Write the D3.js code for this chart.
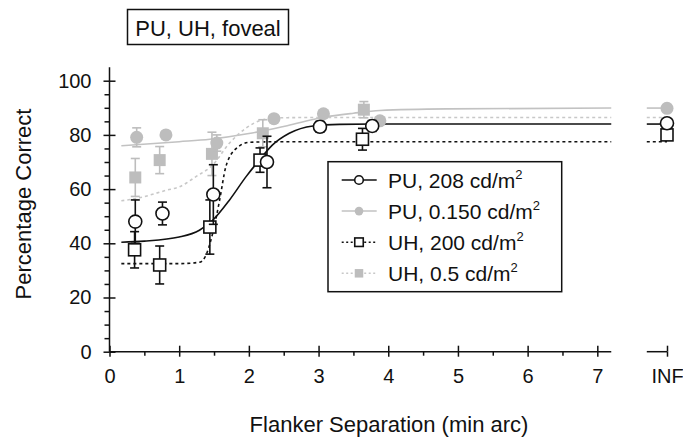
<!DOCTYPE html>
<html>
<head>
<meta charset="utf-8">
<script src="https://cdn.jsdelivr.net/npm/d3@7"></script>
<style>
  html, body { margin: 0; padding: 0; background: #fff; }
  svg { display: block; font-family: "Liberation Sans", Arial, Helvetica, sans-serif; }
</style>
</head>
<body>
<svg id="chart" width="683" height="439"></svg>
<script>
// ---------- data ----------
const xTickValues = [0, 1, 2, 3, 4, 5, 6, 7, 8];
const xTickLabels = ["0", "1", "2", "3", "4", "5", "6", "7", "INF"];
const yTickValues = [0, 20, 40, 60, 80, 100];
const INF_POS = 8;

const seriesNames = ["PU, 208 cd/m", "PU, 0.150 cd/m", "UH, 200 cd/m", "UH, 0.5 cd/m"];

// PU, 208 cd/m2 (open circles)
const pu208X   = [0.37, 0.76, 1.49, 2.26, 3.02, 3.77, INF_POS];
const pu208Y   = [48, 51, 58, 70, 83, 83.3, 84.3];
const pu208Err = [8, 4.2, 11, 9.5, 2, 2, 0];
const pu208FitX = [0.17, 0.5, 1.0, 1.29, 1.48, 1.72, 1.96, 2.15, 2.34, 2.58, 2.92, 3.3, 3.8, 4.5, 7.2];
const pu208FitY = [40.4, 40.8, 42.3, 44.8, 48.5, 55.9, 64.6, 70.7, 76.3, 80.6, 83.3, 83.9, 84, 84, 84];

// PU, 0.150 cd/m2 (grey filled circles)
const pu015X   = [0.39, 0.81, 1.54, 2.36, 3.07, 3.88, INF_POS];
const pu015Y   = [79.1, 80, 77, 86, 87.8, 85.2, 89.8];
const pu015Err = [3.5, 0, 3, 0, 0, 0, 0];
const pu015FitX = [0.17, 1.0, 1.44, 2.0, 2.26, 2.55, 3.07, 3.5, 3.88, 4.84, 7.2];
const pu015FitY = [76, 77.5, 78.4, 80.5, 81.8, 83.4, 86.5, 88, 89, 89.6, 89.9];

// UH, 200 cd/m2 (open squares)
const uh200X   = [0.36, 0.72, 1.44, 2.16, 3.63, INF_POS];
const uh200Y   = [37.6, 32, 46, 70.7, 78.4, 80];
const uh200Err = [6.7, 7, 10, 4.5, 4, 0];
const uh200FitX = [0.17, 1.0, 1.29, 1.37, 1.48, 1.58, 1.67, 1.82, 2.01, 2.5, 7.2];
const uh200FitY = [32.5, 32.5, 33, 34.9, 43.6, 55.9, 68.3, 75, 77.3, 77.5, 77.5];

// UH, 0.5 cd/m2 (grey filled squares)
const uh05X   = [0.37, 0.72, 1.47, 2.2, 3.65];
const uh05Y   = [64.3, 70.7, 73, 80.6, 89.3];
const uh05Err = [7, 5, 8, 5, 3];
const uh05FitX = [0.17, 0.38, 0.82, 1.0, 1.24, 1.48, 1.72, 1.96, 2.2, 2.44, 2.8, 7.2];
const uh05FitY = [55.7, 56.5, 59.6, 60.8, 64.6, 68.9, 76.9, 82.5, 85.6, 86.3, 86.4, 86.4];

// asymptote levels drawn as stubs at INF
const infLevelsY = [84, 89.9, 77.5, 86.4];

// ---------- layout ----------
const svg = d3.select("#chart");
const x = d3.scaleLinear().domain([0, 8]).range([109.5, 667]);
const y = d3.scaleLinear().domain([0, 100]).range([351.7, 80.7]);

const BLACK = "#111";
const GREY_MARK = "#bdbdbd";
const GREY_LINE = "#c2c2c2";
const GREY_DOT = "#c8c8c8";
const FONT = "20px";

const styles = [
  { stroke: BLACK, dash: null, fill: "#fff", markStroke: BLACK, shape: "circle", err: BLACK },
  { stroke: GREY_LINE, dash: null, fill: GREY_MARK, markStroke: "none", shape: "circle", err: GREY_MARK },
  { stroke: BLACK, dash: "3,3", fill: "#fff", markStroke: BLACK, shape: "square", err: BLACK },
  { stroke: GREY_DOT, dash: "3,3", fill: GREY_MARK, markStroke: "none", shape: "square", err: GREY_MARK }
];

// ---------- axes ----------
const axG = svg.append("g").attr("class", "axes");

// y axis
const yAxisOut = d3.axisLeft(y).tickValues(yTickValues).tickSize(6).tickPadding(12).tickFormat(d3.format("d"));
const yAxisIn = d3.axisRight(y).tickValues(yTickValues).tickSize(6).tickFormat("");
const yAxisMinor = d3.axisLeft(y).tickValues(d3.range(5, 100, 5).filter(v => v % 20 !== 0)).tickSize(5).tickFormat("");
[yAxisOut, yAxisIn, yAxisMinor].forEach(ax => {
  const g = axG.append("g").attr("transform", `translate(${x(0)},0)`).call(ax);
  g.select(".domain").remove();
  g.selectAll("line").attr("stroke", BLACK).attr("stroke-width", 1.5);
  g.selectAll("text").attr("font-size", FONT).attr("fill", BLACK).attr("font-family", null);
});
axG.append("line")
  .attr("x1", x(0)).attr("x2", x(0)).attr("y1", y(0)).attr("y2", y(105))
  .attr("stroke", BLACK).attr("stroke-width", 1.5);

// x axis
const xAxisOut = d3.axisBottom(x).tickValues(xTickValues).tickSize(5).tickPadding(12)
  .tickFormat((d, i) => xTickLabels[i]);
const xAxisIn = d3.axisTop(x).tickValues(xTickValues).tickSize(6).tickFormat("");
const xAxisMinor = d3.axisBottom(x).tickValues(d3.range(0.5, 7.5, 1)).tickSize(4).tickFormat("");
[xAxisOut, xAxisIn, xAxisMinor].forEach(ax => {
  const g = axG.append("g").attr("transform", `translate(0,${y(0)})`).call(ax);
  g.select(".domain").remove();
  g.selectAll("line").attr("stroke", BLACK).attr("stroke-width", 1.5);
  g.selectAll("text").attr("font-size", FONT).attr("fill", BLACK).attr("font-family", null);
});
axG.append("line")
  .attr("x1", x(0)).attr("x2", x(7.2)).attr("y1", y(0)).attr("y2", y(0))
  .attr("stroke", BLACK).attr("stroke-width", 1.5);
axG.append("line")
  .attr("x1", x(7.71)).attr("x2", x(8)).attr("y1", y(0)).attr("y2", y(0))
  .attr("stroke", BLACK).attr("stroke-width", 1.5);

// axis titles
svg.append("text")
  .attr("transform", `translate(31,204) rotate(-90)`)
  .attr("text-anchor", "middle").attr("font-size", "22px").attr("fill", BLACK)
  .text("Percentage Correct");
svg.append("text")
  .attr("x", 389).attr("y", 432)
  .attr("text-anchor", "middle").attr("font-size", "22px").attr("fill", BLACK)
  .text("Flanker Separation (min arc)");

// ---------- curves ----------
const line = d3.line().x(d => x(d[0])).y(d => y(d[1])).curve(d3.curveMonotoneX);
const fits = [
  d3.zip(pu208FitX, pu208FitY),
  d3.zip(pu015FitX, pu015FitY),
  d3.zip(uh200FitX, uh200FitY),
  d3.zip(uh05FitX, uh05FitY)
];
const curveOrder = [1, 3, 0, 2];
const curveG = svg.append("g");
curveOrder.forEach(i => {
  curveG.append("path")
    .attr("d", line(fits[i]))
    .attr("fill", "none")
    .attr("stroke", styles[i].stroke)
    .attr("stroke-width", 1.6)
    .attr("stroke-dasharray", styles[i].dash);
  // stub at INF
  curveG.append("line")
    .attr("x1", x(7.71)).attr("x2", x(INF_POS))
    .attr("y1", y(infLevelsY[i])).attr("y2", y(infLevelsY[i]))
    .attr("stroke", styles[i].stroke)
    .attr("stroke-width", 1.6)
    .attr("stroke-dasharray", styles[i].dash);
});

// ---------- markers with error bars ----------
const pts = [
  { xs: pu208X, ys: pu208Y, es: pu208Err },
  { xs: pu015X, ys: pu015Y, es: pu015Err },
  { xs: uh200X, ys: uh200Y, es: uh200Err },
  { xs: uh05X, ys: uh05Y, es: uh05Err }
];
const markOrder = [3, 1, 2, 0];
const R = 6.5, SQ = 12, CAP = 4.5;

function drawMarker(g, shape, cx, cy, fill, stroke, r, sq) {
  if (shape === "circle") {
    g.append("circle").attr("cx", cx).attr("cy", cy).attr("r", r)
      .attr("fill", fill).attr("stroke", stroke).attr("stroke-width", 1.6);
  } else {
    g.append("rect").attr("x", cx - sq / 2).attr("y", cy - sq / 2)
      .attr("width", sq).attr("height", sq)
      .attr("fill", fill).attr("stroke", stroke).attr("stroke-width", 1.6);
  }
}

markOrder.forEach(i => {
  const s = styles[i], p = pts[i];
  const g = svg.append("g");
  p.xs.forEach((xv, k) => {
    const cx = x(xv), e = p.es[k];
    if (e > 0) {
      const y1 = y(p.ys[k] + e), y2 = y(p.ys[k] - e);
      g.append("line").attr("x1", cx).attr("x2", cx).attr("y1", y1).attr("y2", y2)
        .attr("stroke", s.err).attr("stroke-width", 1.6);
      [y1, y2].forEach(yy => g.append("line")
        .attr("x1", cx - CAP).attr("x2", cx + CAP).attr("y1", yy).attr("y2", yy)
        .attr("stroke", s.err).attr("stroke-width", 1.6));
    }
    drawMarker(g, s.shape, cx, y(p.ys[k]), s.fill, s.markStroke, R, SQ);
  });
});

// ---------- title box ----------
const tg = svg.append("g");
tg.append("rect").attr("x", 127.5).attr("y", 9.5).attr("width", 161).attr("height", 35)
  .attr("fill", "#fff").attr("stroke", BLACK).attr("stroke-width", 1.5);
tg.append("text").attr("x", 208).attr("y", 35.5).attr("text-anchor", "middle")
  .attr("font-size", "22px").attr("fill", BLACK).text("PU, UH, foveal");

// ---------- legend ----------
const lg = svg.append("g");
lg.append("rect").attr("x", 328).attr("y", 161.7).attr("width", 233.7).attr("height", 130)
  .attr("fill", "#fff").attr("stroke", BLACK).attr("stroke-width", 1.5);
seriesNames.forEach((name, i) => {
  const s = styles[i];
  const cy = 180 + i * 31.1;
  lg.append("line").attr("x1", 341.7).attr("x2", 376.7).attr("y1", cy).attr("y2", cy)
    .attr("stroke", s.stroke).attr("stroke-width", 1.5).attr("stroke-dasharray", s.dash ? "2,2.5" : null);
  drawMarker(lg, s.shape, 359, cy, s.fill, s.markStroke, 4.3, 8.5);
  const t = lg.append("text").attr("x", 388).attr("y", cy + 7.8)
    .attr("font-size", "21px").attr("fill", BLACK).text(name);
  t.append("tspan").attr("dy", -9).attr("font-size", "13px").text("2");
});
</script>
</body>
</html>
